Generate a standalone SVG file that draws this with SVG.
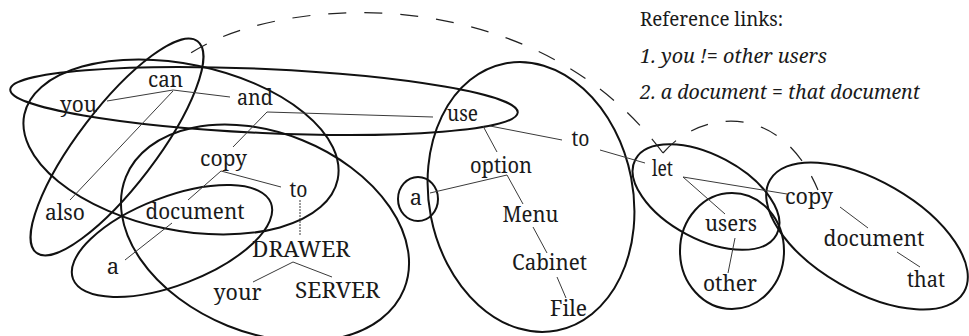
<svg xmlns="http://www.w3.org/2000/svg" width="969" height="336" viewBox="0 0 969 336">
  <style>
    text { font-family: 'Noto Serif', 'DejaVu Serif', serif; fill: #1a1a1a; }
    .w { font-size: 22px; text-anchor: middle; }
    .note { font-size: 20px; }
    .it { font-style: italic; }
    .chunk { fill: none; stroke: #111; stroke-width: 2; }
    .edge { fill: none; stroke: #3a3a3a; stroke-width: 1; }
    .ref { fill: none; stroke: #222; stroke-width: 1.2; stroke-dasharray: 18 18; }
  </style>
  <rect width="969" height="336" fill="#fff"/>

  <!-- chunk groupings -->
  <g id="chunks">
    <ellipse class="chunk" cx="264" cy="101" rx="254" ry="32" transform="rotate(2.6 264 101)"/>
    <ellipse class="chunk" cx="117" cy="147" rx="133" ry="39" transform="rotate(-52.7 117 147)"/>
    <ellipse class="chunk" cx="181" cy="147" rx="160" ry="83" transform="rotate(11.7 181 147)"/>
    <ellipse class="chunk" cx="265" cy="233" rx="150" ry="100" transform="rotate(22 265 233)"/>
    <ellipse class="chunk" cx="172" cy="241" rx="106" ry="44" transform="rotate(-21 172 241)"/>
    <ellipse class="chunk" cx="531" cy="197" rx="102" ry="136" transform="rotate(-11 531 197)" stroke-width="2.4"/>
    <ellipse class="chunk" cx="418" cy="199" rx="20" ry="22"/>
    <ellipse class="chunk" cx="706" cy="197" rx="80" ry="42" transform="rotate(28 706 197)"/>
    <ellipse class="chunk" cx="732" cy="251" rx="52" ry="58" stroke-width="2.4"/>
    <ellipse class="chunk" cx="867" cy="236" rx="112" ry="55" transform="rotate(30 867 236)"/>
  </g>

  <!-- dependency connectors -->
  <g id="connectors">
    <line class="edge" x1="173" y1="90" x2="107" y2="101"/>
    <line class="edge" x1="173" y1="90" x2="230" y2="97"/>
    <line class="edge" x1="173" y1="91" x2="70" y2="200"/>
    <line class="edge" x1="267" y1="112" x2="233" y2="147"/>
    <line class="edge" x1="267" y1="112" x2="433" y2="117"/>
    <line class="edge" x1="221" y1="171" x2="188" y2="200"/>
    <line class="edge" x1="221" y1="171" x2="281" y2="187"/>
    <line class="edge" x1="172" y1="223" x2="125" y2="260"/>
    <line class="edge" x1="300" y1="200" x2="300" y2="236" stroke-dasharray="2 1"/>
    <line class="edge" x1="293" y1="262" x2="253" y2="282"/>
    <line class="edge" x1="293" y1="262" x2="332" y2="277"/>
    <line class="edge" x1="483" y1="126" x2="497" y2="152"/>
    <line class="edge" x1="490" y1="126" x2="562" y2="140"/>
    <line class="edge" x1="600" y1="150" x2="645" y2="163"/>
    <line class="edge" x1="430" y1="193" x2="507" y2="175"/>
    <line class="edge" x1="507" y1="175" x2="523" y2="204"/>
    <line class="edge" x1="533" y1="227" x2="547" y2="253"/>
    <line class="edge" x1="557" y1="277" x2="566" y2="298"/>
    <line class="edge" x1="683" y1="177" x2="725" y2="214"/>
    <line class="edge" x1="683" y1="177" x2="787" y2="194"/>
    <line class="edge" x1="735" y1="238" x2="728" y2="273"/>
    <line class="edge" x1="840" y1="207" x2="868" y2="228"/>
    <line class="edge" x1="897" y1="252" x2="920" y2="267"/>
  </g>

  <!-- reference links, both drawn outward from the point above "let" -->
  <g id="reference-links">
    <path class="ref" d="M663,153 C530,-25 270,-5 185,57"/>
    <path class="ref" d="M663,153 C700,110 780,100 818,190" stroke-dasharray="16 17"/>
  </g>

  <!-- words -->
  <g id="n-you"><text class="w" x="78.5" y="112" textLength="37" lengthAdjust="spacingAndGlyphs">you</text></g>
  <g id="n-can"><text class="w" x="165.5" y="87" textLength="35" lengthAdjust="spacingAndGlyphs">can</text></g>
  <g id="n-and"><text class="w" x="255" y="105" textLength="36" lengthAdjust="spacingAndGlyphs">and</text></g>
  <g id="n-also"><text class="w" x="65" y="220" textLength="40" lengthAdjust="spacingAndGlyphs">also</text></g>
  <g id="n-copy1"><text class="w" x="223.5" y="166" textLength="47" lengthAdjust="spacingAndGlyphs">copy</text></g>
  <g id="n-to1"><text class="w" x="298.5" y="197" textLength="18" lengthAdjust="spacingAndGlyphs">to</text></g>
  <g id="n-document1"><text class="w" x="195" y="219" textLength="99" lengthAdjust="spacingAndGlyphs">document</text></g>
  <g id="n-a1"><text class="w" x="113" y="274">a</text></g>
  <g id="n-drawer"><text class="w" x="301" y="257" textLength="98" lengthAdjust="spacingAndGlyphs">DRAWER</text></g>
  <g id="n-your"><text class="w" x="237.5" y="300" textLength="48" lengthAdjust="spacingAndGlyphs">your</text></g>
  <g id="n-server"><text class="w" x="337.5" y="298" textLength="85" lengthAdjust="spacingAndGlyphs">SERVER</text></g>
  <g id="n-use"><text class="w" x="462.5" y="121" textLength="31" lengthAdjust="spacingAndGlyphs">use</text></g>
  <g id="n-to2"><text class="w" x="580.5" y="146" textLength="18" lengthAdjust="spacingAndGlyphs">to</text></g>
  <g id="n-a2"><text class="w" x="416" y="205">a</text></g>
  <g id="n-option"><text class="w" x="501" y="173" textLength="62" lengthAdjust="spacingAndGlyphs">option</text></g>
  <g id="n-menu"><text class="w" x="530.5" y="222" textLength="56" lengthAdjust="spacingAndGlyphs">Menu</text></g>
  <g id="n-cabinet"><text class="w" x="549.5" y="270" textLength="75" lengthAdjust="spacingAndGlyphs">Cabinet</text></g>
  <g id="n-file"><text class="w" x="568.5" y="316" textLength="37" lengthAdjust="spacingAndGlyphs">File</text></g>
  <g id="n-let"><text class="w" x="662.5" y="176" textLength="21" lengthAdjust="spacingAndGlyphs">let</text></g>
  <g id="n-users"><text class="w" x="731" y="231" textLength="52" lengthAdjust="spacingAndGlyphs">users</text></g>
  <g id="n-other"><text class="w" x="730" y="291" textLength="54" lengthAdjust="spacingAndGlyphs">other</text></g>
  <g id="n-copy2"><text class="w" x="809" y="204" textLength="48" lengthAdjust="spacingAndGlyphs">copy</text></g>
  <g id="n-document2"><text class="w" x="874" y="246" textLength="101" lengthAdjust="spacingAndGlyphs">document</text></g>
  <g id="n-that"><text class="w" x="926" y="287" textLength="38" lengthAdjust="spacingAndGlyphs">that</text></g>

  <!-- legend -->
  <g id="legend">
    <text class="note" x="640" y="26" textLength="143" lengthAdjust="spacingAndGlyphs">Reference links:</text>
    <text class="note it" x="640" y="63" textLength="187" lengthAdjust="spacingAndGlyphs">1. you != other users</text>
    <text class="note it" x="640" y="99" textLength="280" lengthAdjust="spacingAndGlyphs">2. a document = that document</text>
  </g>
</svg>
